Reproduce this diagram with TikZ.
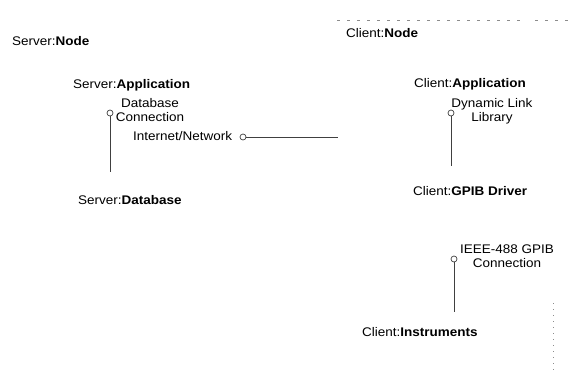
\documentclass[tikz,border=0pt]{standalone}
\usepackage{fontspec}
\setmainfont{Liberation Sans}[FakeStretch=1.08]
\begin{document}
\begin{tikzpicture}[x=1pt,y=-1pt,
  lbl/.style={inner sep=0pt,font=\fontsize{12.5}{14.5}\selectfont,text=black},
  two/.style={lbl,align=center,anchor=base},
  port/.style={draw=black!75,fill=white,circle,inner sep=0pt,minimum size=6pt,line width=0.7pt},
  wire/.style={draw=black!75,line width=0.8pt},
  frame/.style={draw=black!45,line width=0.6pt}]
\useasboundingbox (0,0) rectangle (577,373);
% frame fragments
\draw[frame,dash pattern=on 3pt off 7pt] (337,20) -- (520,20);
\draw[frame,dash pattern=on 3pt off 7pt] (535,20) -- (572,20);
\draw[frame,dash pattern=on 1pt off 5pt] (553,303) -- (553,373);
% labels
\node[lbl,anchor=base west] (snode) at (12,45.5) {Server:\textbf{Node}};
\node[lbl,anchor=base west] (sapp) at (73,88) {Server:\textbf{Application}};
\node[two] (dbconn) at (150,121.5) {Database\\Connection};
\node[lbl,anchor=base west] (inet) at (133,140.5) {Internet/Network};
\node[lbl,anchor=base west] (sdb) at (78,204.5) {Server:\textbf{Database}};
\node[lbl,anchor=base west] (cnode) at (346,37.5) {Client:\textbf{Node}};
\node[lbl,anchor=base west] (capp) at (414,87.5) {Client:\textbf{Application}};
\node[two] (dll) at (492,121.5) {Dynamic Link\\Library};
\node[lbl,anchor=base west] (cgpib) at (413,195.5) {Client:\textbf{GPIB Driver}};
\node[two] (ieee) at (507,267.5) {IEEE-488 GPIB\\Connection};
\node[lbl,anchor=base west] (cinst) at (362,336.5) {Client:\textbf{Instruments}};
% ports and lines
\node[port] (p1) at (110,113) {};
\coordinate (e1) at (110,172);
\draw[wire] (p1) -- (e1);
\node[port] (p2) at (243,137) {};
\coordinate (e2) at (338,137);
\draw[wire] (p2) -- (e2);
\node[port] (p3) at (451,113) {};
\coordinate (e3) at (451,166);
\draw[wire] (p3) -- (e3);
\node[port] (p4) at (454,259) {};
\coordinate (e4) at (454,312);
\draw[wire] (p4) -- (e4);
\end{tikzpicture}
\end{document}
